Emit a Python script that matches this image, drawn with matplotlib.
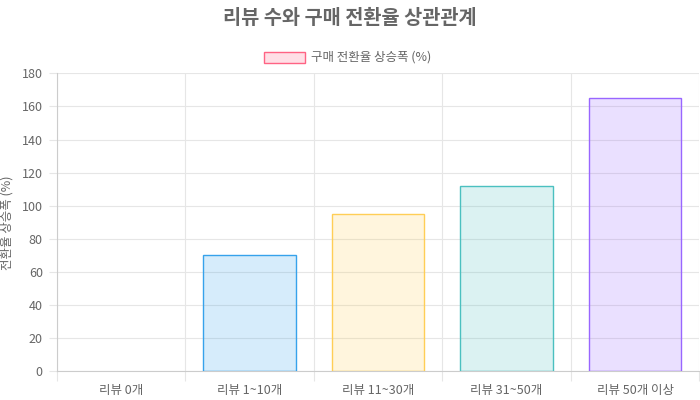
import numpy as np
import matplotlib
matplotlib.use("Agg")
import matplotlib.pyplot as plt
from matplotlib.patches import Rectangle

plt.rcParams['font.family'] = ['Noto Sans CJK KR', 'DejaVu Sans']

# data
categories = ['리뷰 0개', '리뷰 1~10개', '리뷰 11~30개', '리뷰 31~50개', '리뷰 50개 이상']
uplift = [0, 70, 95, 112, 165]
title = '리뷰 수와 구매 전환율 상관관계'
series_label = '구매 전환율 상승폭 (%)'
y_label = '전환율 상승폭 (%)'
y_ticks = [0, 20, 40, 60, 80, 100, 120, 140, 160, 180]

edge_colors = ['#ff6384', '#36a2eb', '#ffce56', '#4bc0c0', '#9966ff']
face_colors = [matplotlib.colors.to_rgba(c, 0.2) for c in edge_colors]
txt = '#666666'
grid = '#e6e6e6'
axis_col = '#cccccc'

fig = plt.figure(figsize=(7, 4), dpi=100)
ax = fig.add_axes([0.081, 0.0718, 0.918, 0.745])

x = np.arange(len(categories))
# chart.js draws no outline on an empty bar
widths = [1 if v > 0 else 0 for v in uplift]
ax.bar(x, uplift, width=0.72, color=face_colors, edgecolor=edge_colors,
       linewidth=widths, zorder=3)

ax.set_xlim(-0.5, len(categories) - 0.5)
ax.set_ylim(0, 180)
ax.set_yticks(y_ticks)
ax.set_xticks(x)
ax.set_xticklabels(categories)
ax.set_xticks(np.arange(-0.5, len(categories)), minor=True)

ax.tick_params(axis='x', which='major', length=0, labelsize=9, colors=txt, pad=9)
ax.tick_params(axis='x', which='minor', length=7, width=0.8, color=grid)
ax.tick_params(axis='y', length=6, width=0.8, color=grid, labelsize=9,
               labelcolor=txt, pad=4)
ax.grid(axis='x', which='minor', color=grid, linewidth=0.8, zorder=0)
ax.grid(axis='y', which='major', color=grid, linewidth=0.8, zorder=0)
ax.grid(axis='x', which='major', visible=False)
ax.set_axisbelow(True)

for s in ['top', 'right']:
    ax.spines[s].set_visible(False)
for s in ['left', 'bottom']:
    ax.spines[s].set_color(axis_col)
    ax.spines[s].set_linewidth(0.8)

ax.set_ylabel(y_label, fontsize=9, color=txt, labelpad=6)

fig.text(0.5, 0.955, title, ha='center', va='center', fontsize=14.2,
         fontweight='bold', color=txt)

# legend
fig.patches.append(Rectangle((264 / 700, 1 - 63 / 400), 41 / 700, 11 / 400,
                             transform=fig.transFigure, facecolor=face_colors[0],
                             edgecolor=edge_colors[0], linewidth=1))
fig.text(311 / 700, 1 - 57 / 400, series_label, ha='left', va='center',
         fontsize=9, color=txt)

fig.savefig('out.png', dpi=100)
